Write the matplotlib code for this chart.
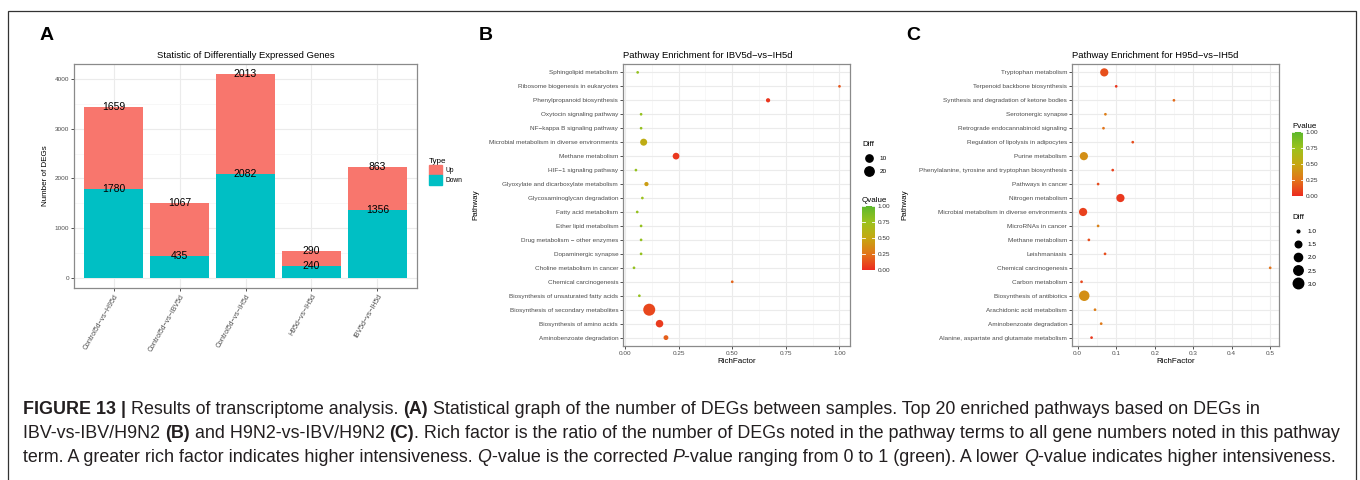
import matplotlib
matplotlib.use('Agg')
import matplotlib.pyplot as plt
import numpy as np
from matplotlib.colors import LinearSegmentedColormap
from matplotlib.patches import Patch, Rectangle
from matplotlib.lines import Line2D

plt.rcParams['font.family'] = ['Liberation Sans', 'DejaVu Sans']

# ---------------- data ----------------
comparisons = ['Control5d\u2212vs\u2212H95d', 'Control5d\u2212vs\u2212IBV5d', 'Control5d\u2212vs\u2212IH5d',
               'H95d\u2212vs\u2212IH5d', 'IBV5d\u2212vs\u2212IH5d']
down_counts = [1780, 435, 2082, 240, 1356]
up_counts = [1659, 1067, 2013, 290, 863]

pathways_b = ["Sphingolipid metabolism", "Ribosome biogenesis in eukaryotes", "Phenylpropanoid biosynthesis",
              "Oxytocin signaling pathway", "NF\u2212kappa B signaling pathway",
              "Microbial metabolism in diverse environments", "Methane metabolism", "HIF\u22121 signaling pathway",
              "Glyoxylate and dicarboxylate metabolism", "Glycosaminoglycan degradation", "Fatty acid metabolism",
              "Ether lipid metabolism", "Drug metabolism \u2212 other enzymes", "Dopaminergic synapse",
              "Choline metabolism in cancer", "Chemical carcinogenesis", "Biosynthesis of unsaturated fatty acids",
              "Biosynthesis of secondary metabolites", "Biosynthesis of amino acids", "Aminobenzoate degradation"]
rich_b = [0.059, 1.0, 0.667, 0.075, 0.075, 0.087, 0.238, 0.051, 0.100, 0.081, 0.057, 0.075, 0.075, 0.075,
          0.042, 0.5, 0.067, 0.113, 0.161, 0.191]
diff_b = [1, 1, 2, 1, 1, 9, 8, 1, 2, 1, 1, 1, 1, 1, 1, 1, 1, 38, 11, 3]
qvalue_b = [0.78, 0.15, 0.04, 0.78, 0.78, 0.55, 0.05, 0.78, 0.45, 0.75, 0.78, 0.78, 0.78, 0.78, 0.78, 0.2,
            0.78, 0.1, 0.06, 0.18]

pathways_c = ["Tryptophan metabolism", "Terpenoid backbone biosynthesis",
              "Synthesis and degradation of ketone bodies", "Serotonergic synapse",
              "Retrograde endocannabinoid signaling", "Regulation of lipolysis in adipocytes", "Purine metabolism",
              "Phenylalanine, tyrosine and tryptophan biosynthesis", "Pathways in cancer", "Nitrogen metabolism",
              "Microbial metabolism in diverse environments", "MicroRNAs in cancer", "Methane metabolism",
              "Leishmaniasis", "Chemical carcinogenesis", "Carbon metabolism", "Biosynthesis of antibiotics",
              "Arachidonic acid metabolism", "Aminobenzoate degradation",
              "Alanine, aspartate and glutamate metabolism"]
rich_c = [0.069, 0.100, 0.25, 0.072, 0.067, 0.143, 0.016, 0.091, 0.053, 0.111, 0.014, 0.053, 0.029, 0.071,
          0.5, 0.010, 0.017, 0.045, 0.061, 0.036]
diff_c = [2, 1, 1, 1, 1, 1, 2, 1, 1, 2, 2, 1, 1, 1, 1, 1, 3, 1, 1, 1]
pvalue_c = [0.13, 0.04, 0.22, 0.30, 0.25, 0.12, 0.38, 0.08, 0.12, 0.05, 0.08, 0.32, 0.12, 0.12, 0.25, 0.10,
            0.38, 0.30, 0.28, 0.05]

diff_breaks_b = [10, 20]
diff_breaks_c = [1.0, 1.5, 2.0, 2.5, 3.0]
cbar_ticks = [0.0, 0.25, 0.5, 0.75, 1.0]

# ---------------- helpers ----------------
W, H = 1360, 480
fig = plt.figure(figsize=(W / 100, H / 100), dpi=100)


def fx(px):
    return px / W


def fy(py):
    return 1 - py / H


def rect(l, t, r, b):
    return [fx(l), fy(b), fx(r) - fx(l), fy(t) - fy(b)]


cmap = LinearSegmentedColormap.from_list('rg', ['#EC2A1F', '#E2741A', '#C6A712', '#9CC21D', '#5DB82C'])
TICKC = '#4D4D4D'
GRID = '#EBEBEB'
GRIDMIN = '#F4F4F4'
SPINE = '#8A8A8A'


def style_axes(ax):
    for s in ax.spines.values():
        s.set_color(SPINE)
        s.set_linewidth(0.9)
    ax.tick_params(which='major', length=2, width=0.6, color='#333333', labelsize=4.6, labelcolor=TICKC, pad=1.5)
    ax.tick_params(which='minor', length=0)
    ax.set_axisbelow(True)


def diam_px(v, vmin, vmax, dmin, dmax):
    t = (np.asarray(v, float) - vmin) / (vmax - vmin)
    return dmin + (dmax - dmin) * np.sqrt(np.clip(t, 0, 1))


def area_pt(d):
    return (np.asarray(d) * 0.72) ** 2


# ---------------- panel A ----------------
axA = fig.add_axes(rect(74, 64, 417, 288))
xa = np.arange(len(comparisons))
down_arr = np.array(down_counts)
up_arr = np.array(up_counts)
axA.bar(xa, down_arr, width=0.9, color='#00BFC4', zorder=2)
axA.bar(xa, up_arr, bottom=down_arr, width=0.9, color='#F8766D', zorder=2)
for i in range(len(xa)):
    axA.text(xa[i], down_arr[i], str(down_counts[i]), ha='center', va='center', fontsize=7.5, zorder=3)
    axA.text(xa[i], down_arr[i] + up_arr[i], str(up_counts[i]), ha='center', va='center', fontsize=7.5, zorder=3)
axA.set_xlim(-0.6, len(xa) - 0.4)
axA.set_ylim(-205, 4300)
axA.set_yticks([0, 1000, 2000, 3000, 4000])
axA.set_yticks([500, 1500, 2500, 3500], minor=True)
axA.set_xticks(xa)
axA.set_xticklabels(comparisons, rotation=60, ha='right', va='top', rotation_mode='anchor')
style_axes(axA)
axA.tick_params(axis='x', labelsize=5.0)
axA.grid(which='major', color=GRID, lw=0.8)
axA.grid(which='minor', axis='y', color=GRIDMIN, lw=0.5)
axA.set_title('Statistic of Differentially Expressed Genes', fontsize=6.8, pad=4)
axA.set_ylabel('Number of DEGs', fontsize=5.8)
axA.yaxis.set_label_coords((49 - 74) / 343, 0.5)
legA = axA.legend(handles=[Patch(color='#F8766D', label='Up'), Patch(color='#00BFC4', label='Down')],
                  title='Type', loc='upper left', bbox_to_anchor=(fx(429), fy(158)),
                  bbox_transform=fig.transFigure, frameon=False, fontsize=4.8, title_fontsize=5.8,
                  handlelength=1.9, handleheight=1.9, labelspacing=0.0, handletextpad=0.5,
                  borderpad=0, borderaxespad=0, alignment='left')


# ---------------- panels B / C ----------------
def bubble_panel(box, pathways, rich, diff, col, xlim, xticks, xfmt, minor_x, title, dmin, dmax):
    ax = fig.add_axes(rect(*box))
    n = len(pathways)
    ypos = np.arange(n)[::-1]
    d = diam_px(diff, min(diff), max(diff), dmin, dmax)
    sc = ax.scatter(rich, ypos, s=area_pt(d), c=col, cmap=cmap, vmin=0, vmax=1, edgecolors='none', zorder=3)
    ax.set_xlim(*xlim)
    ax.set_ylim(-0.6, n - 0.4)
    ax.set_xticks(xticks)
    ax.set_xticklabels([xfmt % t for t in xticks])
    ax.set_xticks(minor_x, minor=True)
    ax.set_yticks(ypos)
    ax.set_yticklabels(pathways)
    style_axes(ax)
    ax.grid(which='major', color=GRID, lw=0.8)
    ax.grid(which='minor', axis='x', color=GRIDMIN, lw=0.5)
    ax.set_title(title, fontsize=6.8, loc='left', pad=4)
    ax.set_xlabel('RichFactor', fontsize=5.8)
    ax.set_ylabel('Pathway', fontsize=5.8)
    return ax, sc


axB, scB = bubble_panel((623, 64, 850, 346), pathways_b, rich_b, diff_b, qvalue_b, (-0.0093, 1.049),
                        [0, 0.25, 0.5, 0.75, 1.0], '%.2f', [0.125, 0.375, 0.625, 0.875],
                        'Pathway Enrichment for IBV5d\u2212vs\u2212IH5d', 2.7, 12.0)
axB.yaxis.set_label_coords((479 - 623) / 227, 0.5)
axB.xaxis.set_label_coords(0.5, -(358 - 346) / 282)

axC, scC = bubble_panel((1072, 64, 1279, 346), pathways_c, rich_c, diff_c, pvalue_c, (-0.0148, 0.5229),
                        [0, 0.1, 0.2, 0.3, 0.4, 0.5], '%.1f', [0.05, 0.15, 0.25, 0.35, 0.45],
                        'Pathway Enrichment for H95d\u2212vs\u2212IH5d', 2.7, 10.5)
axC.yaxis.set_label_coords((908 - 1072) / 207, 0.5)
axC.xaxis.set_label_coords(0.5, -(358 - 346) / 282)


def colorbar(sc, box, title):
    cax = fig.add_axes(rect(*box))
    cb = fig.colorbar(sc, cax=cax, ticks=cbar_ticks)
    cb.outline.set_visible(False)
    cb.ax.set_yticklabels(['%.2f' % t for t in cbar_ticks])
    cb.ax.tick_params(length=0, labelsize=4.6, labelcolor='#333333', pad=2)
    for t in cbar_ticks:
        cb.ax.plot([0, 0.2], [t, t], color='white', lw=0.6)
        cb.ax.plot([0.8, 1], [t, t], color='white', lw=0.6)
    cb.ax.set_xlim(0, 1)
    cb.ax.set_title(title, fontsize=5.8, loc='left', pad=3)
    return cb


colorbar(scB, (862, 206, 875, 270), 'Qvalue')
colorbar(scC, (1292, 132, 1303, 196), 'Pvalue')


def size_legend(breaks, dmin_v, dmax_v, dmin, dmax, anchor, hl, fmt):
    ds = diam_px(breaks, dmin_v, dmax_v, dmin, dmax)
    handles = [Line2D([], [], ls='', marker='o', color='black', markersize=d * 0.72) for d in ds]
    leg = fig.legend(handles, [fmt % b for b in breaks], title='Diff', loc='upper left',
                     bbox_to_anchor=anchor, frameon=False, fontsize=4.6, title_fontsize=5.8,
                     handlelength=hl, handletextpad=0.6, labelspacing=1.2, borderpad=0, borderaxespad=0,
                     alignment='left')
    return leg


size_legend(diff_breaks_b, min(diff_b), max(diff_b), 2.7, 12.0, (fx(862), fy(141)), 2.2, '%d')
size_legend(diff_breaks_c, min(diff_c), max(diff_c), 2.7, 10.5, (fx(1292), fy(214)), 1.9, '%.1f')

# ---------------- panel letters & frame ----------------
for lab, px in [('A', 40), ('B', 479), ('C', 906)]:
    fig.text(fx(px), fy(36), lab, fontsize=14, weight='bold', va='center', ha='left')

fig.add_artist(Rectangle((fx(8), -0.1), fx(1356) - fx(8), fy(11) + 0.1, transform=fig.transFigure,
                         fill=False, ec='#333333', lw=0.9, clip_on=False))

# ---------------- caption ----------------
caption = [
    [("FIGURE 13 |", 'bold', 'normal'), (" Results of transcriptome analysis. ", 'normal', 'normal'),
     ("(A)", 'bold', 'normal'),
     (" Statistical graph of the number of DEGs between samples. Top 20 enriched pathways based on DEGs in",
      'normal', 'normal')],
    [("IBV-vs-IBV/H9N2 ", 'normal', 'normal'), ("(B)", 'bold', 'normal'),
     (" and H9N2-vs-IBV/H9N2 ", 'normal', 'normal'), ("(C)", 'bold', 'normal'),
     (". Rich factor is the ratio of the number of DEGs noted in the pathway terms to all gene numbers noted in this pathway",
      'normal', 'normal')],
    [("term. A greater rich factor indicates higher intensiveness. ", 'normal', 'normal'), ("Q", 'normal', 'italic'),
     ("-value is the corrected ", 'normal', 'normal'), ("P", 'normal', 'italic'),
     ("-value ranging from 0 to 1 (green). A lower ", 'normal', 'normal'), ("Q", 'normal', 'italic'),
     ("-value indicates higher intensiveness.", 'normal', 'normal')],
]
caption_y = [409, 433, 457]
renderer = fig.canvas.get_renderer()


def seg_width(txt, size, w, st):
    t1 = fig.text(0, 0, 'X' + txt + 'X', fontsize=size, weight=w, style=st)
    t2 = fig.text(0, 0, 'XX', fontsize=size, weight=w, style=st)
    wd = t1.get_window_extent(renderer).width - t2.get_window_extent(renderer).width
    t1.remove()
    t2.remove()
    return wd


base = 10.0
line3_w = sum(seg_width(s, base, w, st) for s, w, st in caption[2])
cap_size = base * (1338 - 23) / line3_w

for line, ypx in zip(caption, caption_y):
    x = 23.0
    for s, w, st in line:
        fig.text(fx(x), fy(ypx), s, fontsize=cap_size, weight=w, style=st, va='center', ha='left',
                 color='#231F20')
        x += seg_width(s, cap_size, w, st)

fig.savefig('out.png', dpi=100)
